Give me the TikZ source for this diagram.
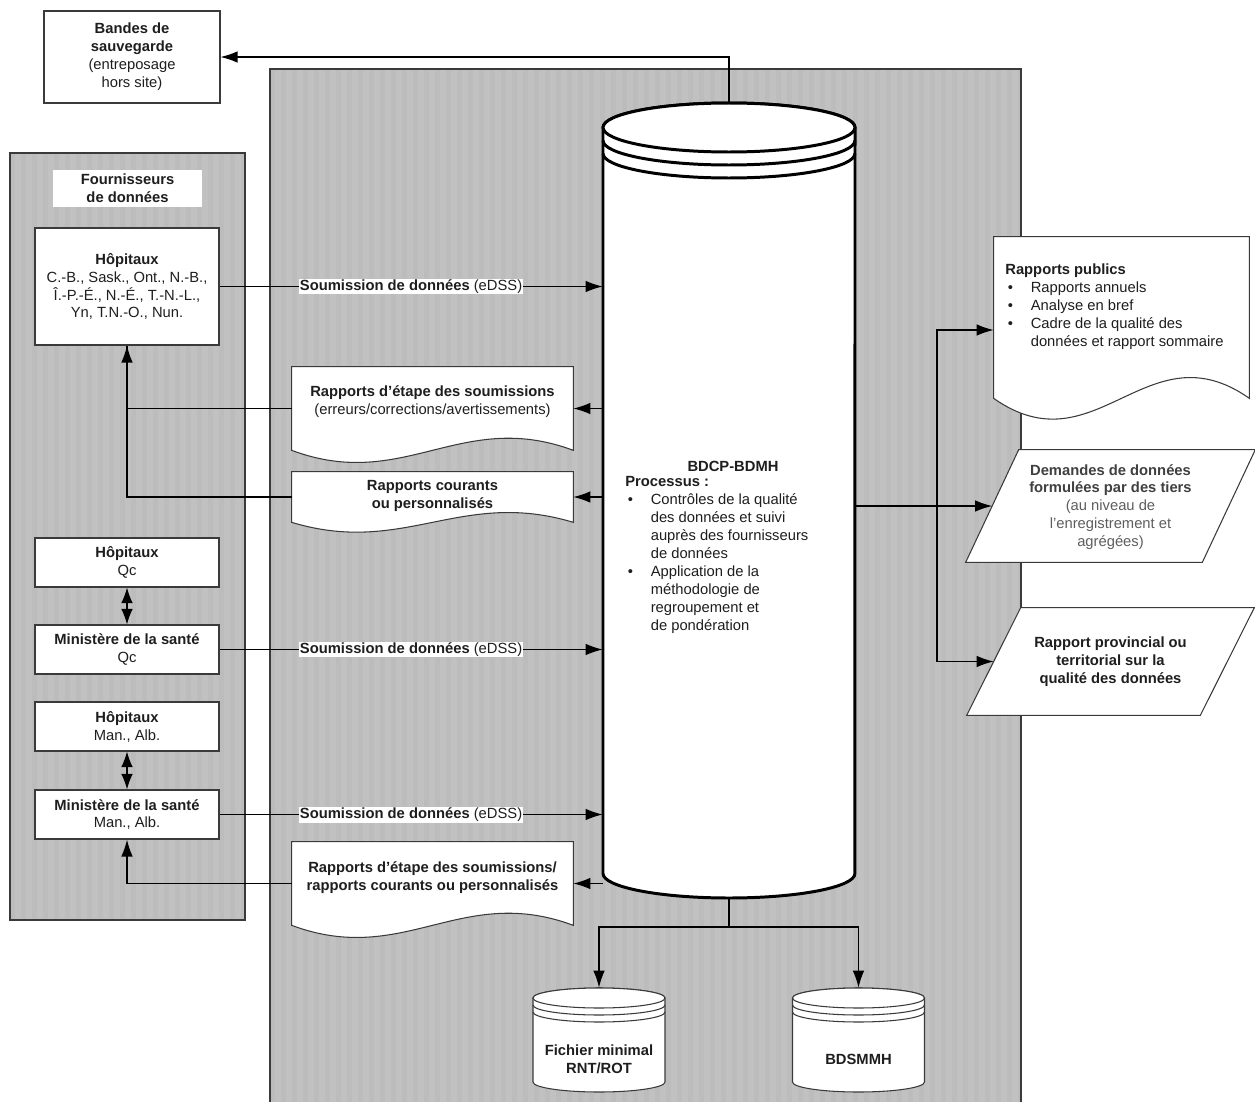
\documentclass[tikz,border=0pt]{standalone}
\usepackage{fontspec}
\setmainfont{Liberation Sans}
\usepackage{tikz}
\usetikzlibrary{arrows.meta, positioning, calc}

\definecolor{panelgray}{HTML}{C1C1C1}
\definecolor{stripegray}{HTML}{BCBCBC}
\definecolor{linegray}{HTML}{3A3A3A}
\definecolor{textdark}{HTML}{1E1E1E}
\definecolor{textmid}{HTML}{404040}
\definecolor{textlight}{HTML}{5E5E5E}

\newcommand{\fs}{\fontsize{8.4}{10.2}\selectfont}
\newcommand{\blt}{\makebox[14.5pt][l]{\hspace{1.5pt}\textbullet}}
\newcommand{\bltgap}{\hspace*{14.5pt}}

% document shape: straight top and sides, wavy bottom
\newcommand{\docwave}[2]{%
  \draw[boxline] (#1.south west) -- (#1.north west) -- (#1.north east) -- (#1.south east)
    .. controls ($(#1.south east)!0.4!(#1.south west)+(0,-#2)$) and ($(#1.south east)!0.6!(#1.south west)+(0,#2)$) .. (#1.south west) -- cycle;}
% data shape: parallelogram around the node
\newcommand{\paraline}[2]{%
  \draw[boxline] ($(#1.south west)+(-#2,0)$) -- ($(#1.north west)+(#2,0)$) -- ($(#1.north east)+(#2,0)$) -- ($(#1.south east)+(-#2,0)$) -- cycle;}

\tikzset{
  txt/.style={font=\fs, text=textdark, align=center, inner sep=0pt},
  box/.style={draw=linegray, line width=0.6pt, fill=white, font=\fs, text=textdark, align=center, minimum width=3.68cm, minimum height=0.98cm, inner sep=0pt},
  frame/.style={draw=none, inner sep=0pt},
  boxline/.style={draw=linegray, line width=0.6pt, fill=white},
  conn/.style={draw=black, line width=0.7pt},
  arr/.style={conn, -{Latex[length=3.4mm, width=2.3mm]}},
  dblarr/.style={conn, {Latex[length=3.1mm, width=2.3mm]}-{Latex[length=3.1mm, width=2.3mm]}},
  lbl/.style={font=\fs, text=textdark, fill=white, inner sep=0.6pt},
  cylline/.style={draw=black, line width=1.7pt, fill=white},
  smallcyl/.style={draw=linegray, line width=0.6pt, fill=white}
}

\begin{document}
\begin{tikzpicture}[x=0.02cm, y=-0.02cm]
  \useasboundingbox (0,0) rectangle (1255,1102);

  % gray panels
  \begin{scope}
    \clip (270,69) rectangle (1021,1102);
    \fill[panelgray] (270,69) rectangle (1021,1102);
    \foreach \x in {270,281,...,1021} \fill[stripegray] (\x,69) rectangle ++(5,1033);
  \end{scope}
  \draw[linegray, line width=0.9pt] (270,1110) -- (270,69) -- (1021,69) -- (1021,1110);
  \begin{scope}
    \clip (10,153) rectangle (245,920);
    \fill[panelgray] (10,153) rectangle (245,920);
    \foreach \x in {10,21,...,245} \fill[stripegray] (\x,153) rectangle ++(5,767);
  \end{scope}
  \draw[linegray, line width=0.9pt] (10,153) rectangle (245,920);

  % backup tapes
  \node[box, minimum width=3.52cm, minimum height=1.84cm] (bandes) at (132,57) {\textbf{Bandes de}\\\textbf{sauvegarde}\\(entreposage\\hors site)};

  % data providers
  \node[txt, fill=white, minimum width=2.98cm, minimum height=0.74cm] (fourn) at (127.5,188.5) {\textbf{Fournisseurs}\\\textbf{de données}};
  \node[box, minimum height=2.34cm] (hop1) at (127,286.5) {\textbf{Hôpitaux}\\C.-B., Sask., Ont., N.-B.,\\Î.-P.-É., N.-É., T.-N.-L.,\\Yn, T.N.-O., Nun.};
  \node[box] (hopqc) at (127,562.5) {\textbf{Hôpitaux}\\Qc};
  \node[box] (minqc) at (127,649.5) {\textbf{Ministère de la santé}\\Qc};
  \node[box] (hopma) at (127,726.5) {\textbf{Hôpitaux}\\Man., Alb.};
  \node[box] (minma) at (127,814.5) {\textbf{Ministère de la santé}\\Man., Alb.};

  % main database
  \node[frame, minimum width=5.04cm, minimum height=15.9cm] (bdcp) at (729,500.5) {};
  \draw[cylline] (603,127.5) -- (603,873.5) arc[start angle=180, end angle=360, x radius=2.52cm, y radius=0.49cm] -- (855,127.5) arc[start angle=0, end angle=180, x radius=2.52cm, y radius=0.49cm] -- cycle;
  \draw[cylline] (729,127.5) ellipse[x radius=2.52cm, y radius=0.49cm];
  \draw[cylline, fill=none] (603,140.5) arc[start angle=180, end angle=360, x radius=2.52cm, y radius=0.49cm];
  \draw[cylline, fill=none] (603,153.5) arc[start angle=180, end angle=360, x radius=2.52cm, y radius=0.49cm];
  \node[txt] (bdcptitle) at (733,466) {\textbf{BDCP-BDMH}};
  \node[txt, align=left, anchor=west] (procs) at (625,555) {\textbf{Processus :}\\
    \blt Contrôles de la qualité\\\bltgap des données et suivi\\\bltgap auprès des fournisseurs\\\bltgap de données\\
    \blt Application de la\\\bltgap méthodologie de\\\bltgap regroupement et\\\bltgap de pondération};

  % reports back to providers
  \node[frame, minimum width=5.62cm, minimum height=1.66cm] (etape) at (432.5,408.5) {};
  \docwave{etape}{42}
  \node[txt] (etapetxt) at (432.5,402) {\textbf{Rapports d’étape des soumissions}\\(erreurs/corrections/avertissements)};
  \node[frame, minimum width=5.62cm, minimum height=1.0cm] (courants) at (432.5,497) {};
  \docwave{courants}{34}
  \node[txt] (courantstxt) at (432.5,496) {\textbf{Rapports courants}\\\textbf{ou personnalisés}};
  \node[frame, minimum width=5.62cm, minimum height=1.66cm] (etape2) at (432.5,883.5) {};
  \docwave{etape2}{42}
  \node[txt] (etape2txt) at (432.5,878) {\textbf{Rapports d’étape des soumissions/}\\\textbf{rapports courants ou personnalisés}};

  % outputs
  \node[frame, minimum width=5.1cm, minimum height=3.22cm] (pubs) at (1121.5,317.5) {};
  \docwave{pubs}{72}
  \node[txt, align=left, anchor=west] (pubstxt) at (1005,307) {\textbf{Rapports publics}\\
    \blt Rapports annuels\\\blt Analyse en bref\\\blt Cadre de la qualité des\\\bltgap données et rapport sommaire};
  \node[frame, minimum width=4.72cm, minimum height=2.24cm] (demandes) at (1110.5,506) {};
  \paraline{demandes}{26.5}
  \node[txt] (demandestxt) at (1110.5,507) {\textcolor{textmid}{\textbf{Demandes de données}}\\\textcolor{textmid}{\textbf{formulées par des tiers}}\\\textcolor{textlight}{(au niveau de}\\\textcolor{textlight}{l’enregistrement et}\\\textcolor{textlight}{agrégées)}};
  \node[frame, minimum width=4.66cm, minimum height=2.14cm] (prov) at (1110.5,661.5) {};
  \paraline{prov}{27}
  \node[txt] (provtxt) at (1110.5,662) {\textbf{Rapport provincial ou}\\\textbf{territorial sur la}\\\textbf{qualité des données}};

  % small databases
  \node[frame, minimum width=2.64cm, minimum height=2.08cm] (fichier) at (599,1040) {};
  \node[frame, minimum width=2.66cm, minimum height=2.08cm] (bdsmmh) at (858.5,1040) {};
  \foreach \cx in {599,858.5} {
    \draw[smallcyl] (\cx-66,998) -- (\cx-66,1082) arc[start angle=180, end angle=360, x radius=1.32cm, y radius=0.2cm] -- (\cx+66,998) arc[start angle=0, end angle=180, x radius=1.32cm, y radius=0.2cm] -- cycle;
    \draw[smallcyl] (\cx,998) ellipse[x radius=1.32cm, y radius=0.2cm];
    \draw[smallcyl, fill=none] (\cx-66,1005) arc[start angle=180, end angle=360, x radius=1.32cm, y radius=0.2cm];
    \draw[smallcyl, fill=none] (\cx-66,1012) arc[start angle=180, end angle=360, x radius=1.32cm, y radius=0.2cm];
  }
  \node[txt] (fichiertxt) at (599,1059) {\textbf{Fichier minimal}\\\textbf{RNT/ROT}};
  \node[txt] (bdsmmhtxt) at (858.5,1059) {\textbf{BDSMMH}};

  % connectors
  \draw[arr] (bdcp.north) |- (bandes.east);
  \draw[arr] (hop1.east) -- (hop1.east -| bdcp.west) node[lbl, pos=0.5] {\textbf{Soumission de données} (eDSS)};
  \draw[arr] (minqc.east) -- (minqc.east -| bdcp.west) node[lbl, pos=0.5] {\textbf{Soumission de données} (eDSS)};
  \draw[arr] (minma.east) -- (minma.east -| bdcp.west) node[lbl, pos=0.5] {\textbf{Soumission de données} (eDSS)};
  \draw[dblarr] (hopqc.south) -- (minqc.north);
  \draw[dblarr] (hopma.south) -- (minma.north);

  \draw[arr] (bdcp.west |- etape.east) -- (etape.east);
  \draw[arr] (bdcp.west |- courants.east) -- (courants.east);
  \draw[arr] (bdcp.west |- etape2.east) -- (etape2.east);
  \draw[arr] (etape.west) -| (hop1.south);
  \draw[conn] (courants.west) -| (hop1.south);
  \draw[arr] (etape2.west) -| (minma.south);

  \coordinate (split) at (937,506);
  \coordinate (pubin) at ($(pubs.west)+(0,12.5)$);
  \draw[arr] (bdcp.east |- demandes.west) -- (demandes.west);
  \draw[arr] (split) |- (pubin);
  \draw[arr] (split) |- (prov.west);

  \coordinate (fork) at (729,927);
  \draw[conn] (bdcp.south) -- (fork);
  \draw[arr] (fork) -| (fichier.north);
  \draw[arr] (fork) -| (bdsmmh.north);
\end{tikzpicture}
\end{document}
